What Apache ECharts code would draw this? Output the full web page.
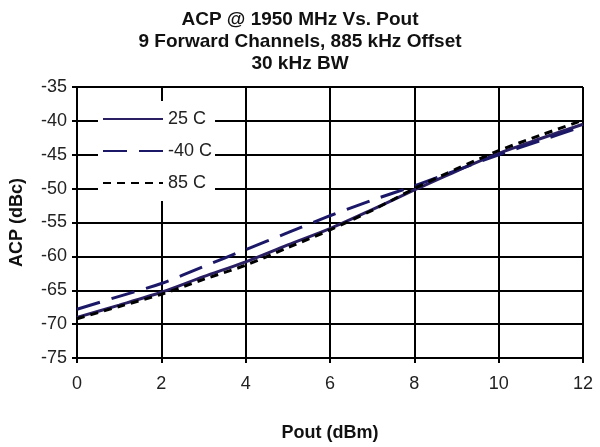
<!DOCTYPE html>
<html>
<head>
<meta charset="utf-8">
<script src="https://cdn.jsdelivr.net/npm/echarts@6/dist/echarts.min.js"></script>
<style>
html,body{margin:0;padding:0;background:#fff;}
#chart{width:600px;height:447px;}
</style>
</head>
<body>
<div id="chart"></div>
<script>
var pout = [0, 1, 2, 3, 4, 5, 6, 7, 8, 9, 10, 11, 12];
var acp25 = [-69.0, -67.2, -65.3, -63.0, -60.8, -58.3, -55.9, -53.1, -50.2, -47.4, -44.8, -42.6, -40.5];
var acpM40 = [-67.8, -65.9, -64.0, -61.5, -59.0, -56.5, -54.0, -51.7, -49.6, -47.3, -45.0, -42.9, -40.8];
var acp85 = [-69.2, -67.4, -65.6, -63.4, -61.3, -58.7, -56.1, -53.2, -50.0, -47.1, -44.4, -42.1, -39.9];
var seriesNames = ['25 C', '-40 C', '85 C'];
var titleLines = ['ACP @ 1950 MHz Vs. Pout', '9 Forward Channels, 885 kHz Offset', '30 kHz BW'];

function pairs(xs, ys) { return xs.map(function (x, i) { return [x, ys[i]]; }); }

var chart = echarts.init(document.getElementById('chart'));
var font = 'Arial, "Liberation Sans", sans-serif';
chart.setOption({
  backgroundColor: '#fff',
  animation: false,
  title: {
    text: titleLines.join('\n'),
    left: 'center',
    top: 9,
    padding: 0,
    textStyle: { fontFamily: font, fontSize: 19, fontWeight: 'bold', color: '#111', lineHeight: 22 }
  },
  legend: {
    orient: 'vertical',
    left: 98,
    top: 101,
    padding: [9, 3, 9, 4],
    itemWidth: 60,
    itemHeight: 14,
    itemGap: 14,
    backgroundColor: '#fff',
    itemStyle: { color: 'rgba(0,0,0,0)', borderWidth: 0, opacity: 0 },
    textStyle: { fontFamily: font, fontSize: 18, color: '#222' },
    data: seriesNames
  },
  grid: { left: 77, right: 17, top: 87, bottom: 77 },
  xAxis: {
    type: 'value',
    min: 0, max: 12, interval: 2,
    name: 'Pout (dBm)',
    nameLocation: 'middle',
    nameGap: 66,
    nameTextStyle: { fontFamily: font, fontSize: 18, fontWeight: 'bold', color: '#111' },
    axisLine: { show: true, lineStyle: { color: '#000', width: 2 } },
    axisTick: { show: true, length: 5, lineStyle: { color: '#000', width: 2 } },
    axisLabel: { fontFamily: font, fontSize: 18, color: '#222', margin: 17 },
    splitLine: { show: true, lineStyle: { color: '#000', width: 2 } }
  },
  yAxis: {
    type: 'value',
    min: -75, max: -35, interval: 5,
    name: 'ACP (dBc)',
    nameLocation: 'middle',
    nameGap: 51,
    nameRotate: 90,
    nameTextStyle: { fontFamily: font, fontSize: 18, fontWeight: 'bold', color: '#111' },
    axisLine: { show: true, lineStyle: { color: '#000', width: 2 } },
    axisTick: { show: true, length: 5, lineStyle: { color: '#000', width: 2 } },
    axisLabel: { fontFamily: font, fontSize: 18, color: '#222', margin: 10 },
    splitLine: { show: true, lineStyle: { color: '#000', width: 2 } }
  },
  series: [
    {
      name: seriesNames[0], type: 'line', data: pairs(pout, acp25),
      symbol: 'none', smooth: 0.3,
      lineStyle: { color: '#2a1f63', width: 3, type: 'solid' },
      itemStyle: { color: '#2a1f63' }
    },
    {
      name: seriesNames[1], type: 'line', data: pairs(pout, acpM40),
      symbol: 'none', smooth: 0.3,
      lineStyle: { color: '#1c1868', width: 3, type: [24, 12] },
      itemStyle: { color: '#1c1868' }
    },
    {
      name: seriesNames[2], type: 'line', data: pairs(pout, acp85),
      symbol: 'none', smooth: 0.3,
      lineStyle: { color: '#000', width: 3, type: [8, 6] },
      itemStyle: { color: '#000' }
    }
  ]
});
</script>
</body>
</html>
